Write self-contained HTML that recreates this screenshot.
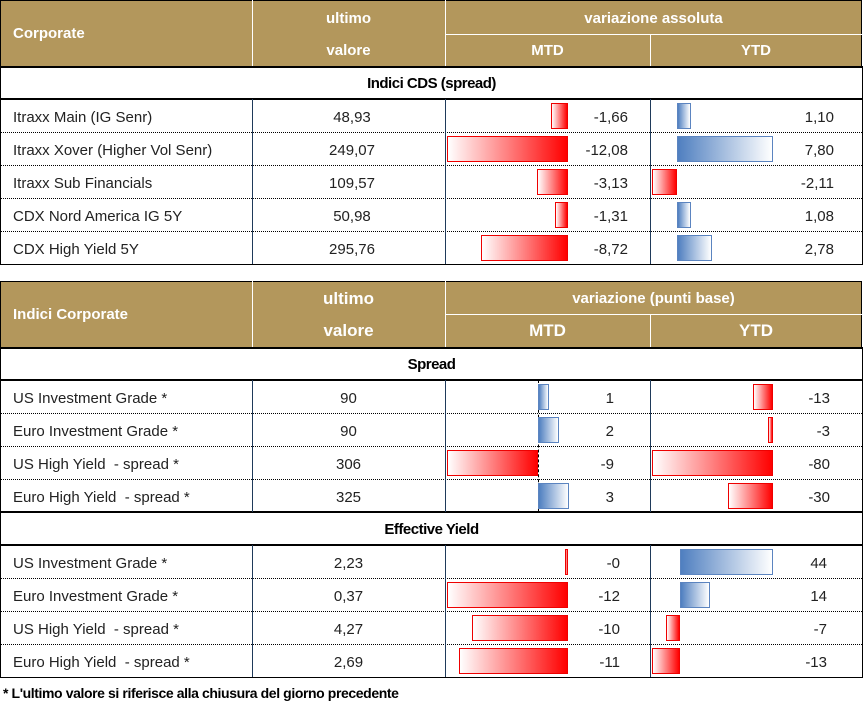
<!DOCTYPE html>
<html><head><meta charset="utf-8"><style>
body{margin:0;width:863px;height:711px;background:#fff;font-family:"Liberation Sans",sans-serif;position:relative;overflow:hidden}
.a{position:absolute;box-sizing:border-box}
.h{background:#B3975C;color:#fff;font-weight:bold;font-size:15px}
.t{position:absolute;font-size:15px;color:#222;line-height:33px;white-space:nowrap;padding-top:2px}
.s{position:absolute;left:0;width:863px;text-align:center;font-weight:bold;font-size:15px;line-height:33px;letter-spacing:-0.5px;padding-top:1px}
.dot{position:absolute;left:0;width:862px;border-top:1px dotted #000}
.sol{position:absolute;left:0;width:862px;border-top:2px solid #000}
.vl{position:absolute;width:1px;background:#1F3A5A}
.r,.b{box-sizing:border-box}
.r{position:absolute;height:26px;border:1px solid #e00;background:linear-gradient(to right,#fff,#f00)}
.b{position:absolute;height:26px;border:1px solid #5b84c0;background:linear-gradient(to right,#4f7fc0,#fff)}
</style></head><body>
<div class="a h" style="left:0;top:0;width:862px;height:67px;border:1px solid #000"></div>
<div class="a" style="left:252px;top:0;width:1px;height:66px;background:#fff"></div>
<div class="a" style="left:445px;top:0;width:1px;height:66px;background:#fff"></div>
<div class="a" style="left:445px;top:34px;width:417px;height:1px;background:#fff"></div>
<div class="a" style="left:650px;top:34px;width:1px;height:32px;background:#fff"></div>
<div class="t" style="left:13px;top:15px;color:#fff;font-weight:bold">Corporate</div>
<div class="t" style="left:252px;width:193px;text-align:center;top:0px;color:#fff;font-weight:bold">ultimo</div>
<div class="t" style="left:252px;width:193px;text-align:center;top:32px;color:#fff;font-weight:bold">valore</div>
<div class="t" style="left:445px;width:417px;text-align:center;top:0px;color:#fff;font-weight:bold">variazione assoluta</div>
<div class="t" style="left:445px;width:205px;text-align:center;top:32px;color:#fff;font-weight:bold">MTD</div>
<div class="t" style="left:650px;width:212px;text-align:center;top:32px;color:#fff;font-weight:bold">YTD</div>
<div class="a" style="left:0;top:66px;width:863px;height:199px;border:1px solid #000;border-top:2px solid #000"></div>
<div class="s" style="top:66px">Indici CDS (spread)</div>
<div class="sol" style="top:98px"></div>
<div class="dot" style="top:132px"></div><div class="dot" style="top:165px"></div><div class="dot" style="top:198px"></div><div class="dot" style="top:231px"></div>
<div class="vl" style="left:252px;top:99px;height:165px"></div>
<div class="vl" style="left:445px;top:99px;height:165px"></div>
<div class="vl" style="left:650px;top:99px;height:165px"></div>
<div class="t" style="left:13px;top:99px">Itraxx Main (IG Senr)</div>
<div class="t" style="left:13px;top:132px">Itraxx Xover (Higher Vol Senr)</div>
<div class="t" style="left:13px;top:165px">Itraxx Sub Financials</div>
<div class="t" style="left:13px;top:198px">CDX Nord America IG 5Y</div>
<div class="t" style="left:13px;top:231px">CDX High Yield 5Y</div>
<div class="t" style="left:252px;width:200px;text-align:center;top:99px">48,93</div>
<div class="t" style="left:252px;width:200px;text-align:center;top:132px">249,07</div>
<div class="t" style="left:252px;width:200px;text-align:center;top:165px">109,57</div>
<div class="t" style="left:252px;width:200px;text-align:center;top:198px">50,98</div>
<div class="t" style="left:252px;width:200px;text-align:center;top:231px">295,76</div>
<div class="r" style="left:551px;width:17px;top:103px"></div>
<div class="r" style="left:447px;width:121px;top:136px"></div>
<div class="r" style="left:537px;width:31px;top:169px"></div>
<div class="r" style="left:555px;width:13px;top:202px"></div>
<div class="r" style="left:481px;width:87px;top:235px"></div>
<div class="t" style="right:235px;top:99px">-1,66</div>
<div class="t" style="right:235px;top:132px">-12,08</div>
<div class="t" style="right:235px;top:165px">-3,13</div>
<div class="t" style="right:235px;top:198px">-1,31</div>
<div class="t" style="right:235px;top:231px">-8,72</div>
<div class="b" style="left:677px;width:14px;top:103px"></div>
<div class="b" style="left:677px;width:96px;top:136px"></div>
<div class="r" style="left:652px;width:25px;top:169px"></div>
<div class="b" style="left:677px;width:14px;top:202px"></div>
<div class="b" style="left:677px;width:35px;top:235px"></div>
<div class="t" style="right:29px;top:99px">1,10</div>
<div class="t" style="right:29px;top:132px">7,80</div>
<div class="t" style="right:29px;top:165px">-2,11</div>
<div class="t" style="right:29px;top:198px">1,08</div>
<div class="t" style="right:29px;top:231px">2,78</div>

<div class="a h" style="left:0;top:281px;width:862px;height:67px;border:1px solid #000"></div>
<div class="a" style="left:252px;top:281px;width:1px;height:66px;background:#fff"></div>
<div class="a" style="left:445px;top:281px;width:1px;height:66px;background:#fff"></div>
<div class="a" style="left:445px;top:314px;width:417px;height:1px;background:#fff"></div>
<div class="a" style="left:650px;top:314px;width:1px;height:33px;background:#fff"></div>
<div class="t" style="left:13px;top:296px;color:#fff;font-weight:bold">Indici Corporate</div>
<div class="t" style="left:252px;width:193px;text-align:center;top:280px;color:#fff;font-weight:bold;font-size:17px">ultimo</div>
<div class="t" style="left:252px;width:193px;text-align:center;top:312px;color:#fff;font-weight:bold;font-size:17px">valore</div>
<div class="t" style="left:445px;width:417px;text-align:center;top:280px;color:#fff;font-weight:bold">variazione (punti base)</div>
<div class="t" style="left:445px;width:205px;text-align:center;top:312px;color:#fff;font-weight:bold;font-size:17px">MTD</div>
<div class="t" style="left:650px;width:212px;text-align:center;top:312px;color:#fff;font-weight:bold;font-size:17px">YTD</div>
<div class="a" style="left:0;top:347px;width:863px;height:331px;border:1px solid #000;border-top:2px solid #000"></div>
<div class="s" style="top:347px">Spread</div>
<div class="sol" style="top:379px"></div>
<div class="dot" style="top:413px"></div><div class="dot" style="top:446px"></div><div class="dot" style="top:479px"></div>
<div class="sol" style="top:511px"></div>
<div class="s" style="top:512px">Effective Yield</div>
<div class="sol" style="top:544px"></div>
<div class="dot" style="top:578px"></div><div class="dot" style="top:611px"></div><div class="dot" style="top:644px"></div>
<div class="vl" style="left:252px;top:380px;height:132px"></div>
<div class="vl" style="left:445px;top:380px;height:132px"></div>
<div class="vl" style="left:650px;top:380px;height:132px"></div>
<div class="vl" style="left:252px;top:545px;height:132px"></div>
<div class="vl" style="left:445px;top:545px;height:132px"></div>
<div class="vl" style="left:650px;top:545px;height:132px"></div>
<div class="t" style="left:13px;top:380px">US Investment Grade *</div>
<div class="t" style="left:13px;top:413px">Euro Investment Grade *</div>
<div class="t" style="left:13px;top:446px">US High Yield &nbsp;- spread *</div>
<div class="t" style="left:13px;top:479px">Euro High Yield &nbsp;- spread *</div>
<div class="t" style="left:13px;top:545px">US Investment Grade *</div>
<div class="t" style="left:13px;top:578px">Euro Investment Grade *</div>
<div class="t" style="left:13px;top:611px">US High Yield &nbsp;- spread *</div>
<div class="t" style="left:13px;top:644px">Euro High Yield &nbsp;- spread *</div>
<div class="t" style="left:252px;width:193px;text-align:center;top:380px">90</div>
<div class="t" style="left:252px;width:193px;text-align:center;top:413px">90</div>
<div class="t" style="left:252px;width:193px;text-align:center;top:446px">306</div>
<div class="t" style="left:252px;width:193px;text-align:center;top:479px">325</div>
<div class="t" style="left:252px;width:193px;text-align:center;top:545px">2,23</div>
<div class="t" style="left:252px;width:193px;text-align:center;top:578px">0,37</div>
<div class="t" style="left:252px;width:193px;text-align:center;top:611px">4,27</div>
<div class="t" style="left:252px;width:193px;text-align:center;top:644px">2,69</div>
<div class="a" style="left:538px;top:380px;height:132px;border-left:1px dashed #000"></div>
<div class="b" style="left:538px;width:11px;top:384px"></div>
<div class="b" style="left:538px;width:21px;top:417px"></div>
<div class="r" style="left:447px;width:91px;top:450px"></div>
<div class="b" style="left:538px;width:31px;top:483px"></div>
<div class="t" style="right:249px;top:380px">1</div>
<div class="t" style="right:249px;top:413px">2</div>
<div class="t" style="right:249px;top:446px">-9</div>
<div class="t" style="right:249px;top:479px">3</div>
<div class="r" style="left:753px;width:20px;top:384px"></div>
<div class="r" style="left:768px;width:5px;top:417px"></div>
<div class="r" style="left:652px;width:121px;top:450px"></div>
<div class="r" style="left:728px;width:45px;top:483px"></div>
<div class="t" style="right:33px;top:380px">-13</div>
<div class="t" style="right:33px;top:413px">-3</div>
<div class="t" style="right:33px;top:446px">-80</div>
<div class="t" style="right:33px;top:479px">-30</div>
<div class="r" style="left:565px;width:3px;top:549px"></div>
<div class="r" style="left:447px;width:121px;top:582px"></div>
<div class="r" style="left:472px;width:96px;top:615px"></div>
<div class="r" style="left:459px;width:109px;top:648px"></div>
<div class="t" style="right:243px;top:545px">-0</div>
<div class="t" style="right:243px;top:578px">-12</div>
<div class="t" style="right:243px;top:611px">-10</div>
<div class="t" style="right:243px;top:644px">-11</div>
<div class="b" style="left:680px;width:93px;top:549px"></div>
<div class="b" style="left:680px;width:30px;top:582px"></div>
<div class="r" style="left:666px;width:14px;top:615px"></div>
<div class="r" style="left:652px;width:28px;top:648px"></div>
<div class="t" style="right:36px;top:545px">44</div>
<div class="t" style="right:36px;top:578px">14</div>
<div class="t" style="right:36px;top:611px">-7</div>
<div class="t" style="right:36px;top:644px">-13</div>
<div class="t" style="left:3px;top:675px;font-weight:bold;font-size:14px;color:#000;letter-spacing:-0.4px">* L'ultimo valore si riferisce alla chiusura del giorno precedente</div>
</body></html>
